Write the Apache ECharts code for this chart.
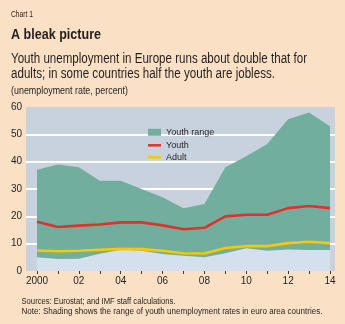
<!DOCTYPE html>
<html><head><meta charset="utf-8">
<script src="https://cdn.jsdelivr.net/npm/echarts@6/dist/echarts.min.js"></script>
<style>html,body{margin:0;padding:0;background:#fae0c4;}#c{width:345px;height:324px;}</style>
</head><body><div id="c"></div>
<script>
const years = [2000,2001,2002,2003,2004,2005,2006,2007,2008,2009,2010,2011,2012,2013,2014];
const rangeHigh = [37,39,38,33,33,30,27,23,24.5,38,42,46.5,55.5,58,53];
const rangeLow = [5.0,4.4,4.5,6.3,7.8,7.4,6.2,5.6,5.0,6.5,8.3,7.4,7.9,7.7,7.7];
const youth = [18,16.1,16.6,17,17.8,17.8,16.7,15.3,15.8,20,20.6,20.6,23,23.8,23];
const adult = [7.5,7.2,7.4,7.8,8.1,8.0,7.4,6.5,6.4,8.4,9.1,9.1,10.2,10.7,10.2];
const xLabelYears = [2000,2002,2004,2006,2008,2010,2012,2014];

const FAM = '"Liberation Sans","Arial",sans-serif';
const INK = '#231f20';
const pair = arr => years.map((y,i)=>[y,arr[i]]);

// condensed-looking text: horizontally scale real text to the reference width
const mctx = document.createElement('canvas').getContext('2d');
function condText(text, x, yMid, fs, weight, targetW){
  const font = weight + ' ' + fs + 'px ' + FAM;
  mctx.font = font;
  const s = targetW / mctx.measureText(text).width;
  return {type:'text', x:x, y:yMid, scaleX:s, silent:true,
    style:{text:text, x:0, y:0, font:font, fill:INK, textVerticalAlign:'middle', verticalAlign:'middle'}};
}

const chart = echarts.init(document.getElementById('c'));
chart.setOption({
  backgroundColor:'#fae0c4',
  animation:false,
  textStyle:{fontFamily:FAM},
  graphic:[
    condText('Chart 1', 11, 14, 9.5, 'normal', 22),
    condText('A bleak picture', 11, 35.2, 15, 'bold', 90),
    condText('Youth unemployment in Europe runs about double that for', 11, 58.8, 14, 'normal', 296),
    condText('adults; in some countries half the youth are jobless.', 11, 73.8, 14, 'normal', 264),
    condText('(unemployment rate, percent)', 11, 91.2, 10, 'normal', 117),
    condText('Sources: Eurostat; and IMF staff calculations.', 21.5, 301.4, 8.5, 'normal', 154),
    condText('Note: Shading shows the range of youth unemployment rates in euro area countries.', 21.5, 311.7, 8.5, 'normal', 301)
  ],
  grid:{left:26,right:10,top:107,bottom:53,show:true,backgroundColor:'#c8d2df',borderWidth:0},
  legend:[
    {orient:'vertical',left:143,top:121.3,itemWidth:13,itemHeight:7,itemGap:0,
      textStyle:{fontFamily:FAM,fontSize:9,color:INK,lineHeight:12},
      data:[{name:'Youth range',icon:'rect'}]},
    {orient:'vertical',left:143,top:134.3,itemWidth:13,itemHeight:2.5,itemGap:0,
      textStyle:{fontFamily:FAM,fontSize:9,color:INK,lineHeight:12},
      data:[{name:'Youth',icon:'rect'},{name:'Adult',icon:'rect'}]}
  ],
  xAxis:{
    type:'value',min:1999.474,max:2014.239,
    axisLine:{show:false},
    axisTick:{show:true,customValues:years,length:3,lineStyle:{color:'#3a3a3a',width:1}},
    axisLabel:{customValues:xLabelYears,margin:5,fontSize:10,color:INK,fontFamily:FAM,
      formatter:v=> v===2000 ? '2000' : String(v%100).padStart(2,'0')},
    splitLine:{show:false}
  },
  yAxis:{
    type:'value',min:0,max:60,interval:10,
    axisLine:{show:false},axisTick:{show:false},
    axisLabel:{margin:4,fontSize:10,color:INK,fontFamily:FAM},
    splitLine:{show:true,showMinLine:false,showMaxLine:false,lineStyle:{color:'#ffffff',width:2}}
  },
  series:[
    {name:'Youth range',type:'line',data:pair(rangeHigh),symbol:'none',
      lineStyle:{width:0,color:'#72ae9e'},itemStyle:{color:'#72ae9e'},areaStyle:{color:'#72ae9e',opacity:1},z:2},
    {name:'low',type:'line',data:pair(rangeLow),symbol:'none',
      lineStyle:{width:0,color:'#d4e0ee'},itemStyle:{color:'#d4e0ee'},areaStyle:{color:'#d4e0ee',opacity:1},z:3},
    {name:'Youth',type:'line',data:pair(youth),symbol:'none',
      lineStyle:{width:2.6,color:'#e0312b'},itemStyle:{color:'#e0312b'},z:4},
    {name:'Adult',type:'line',data:pair(adult),symbol:'none',
      lineStyle:{width:2.6,color:'#f6c900'},itemStyle:{color:'#f6c900'},z:5}
  ]
});
</script></body></html>
